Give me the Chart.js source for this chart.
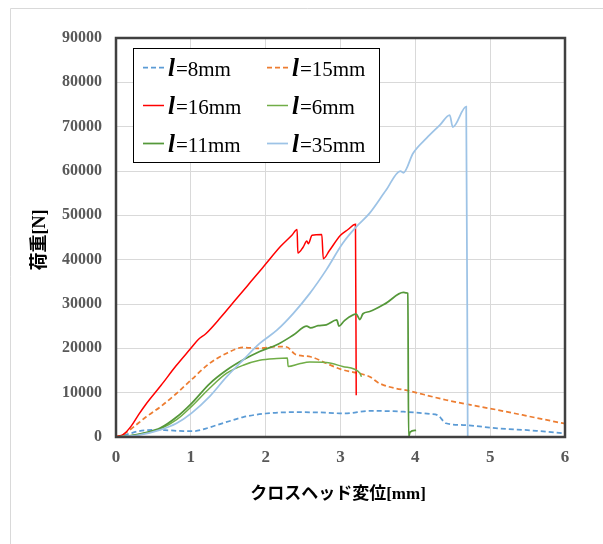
<!DOCTYPE html>
<html>
<head>
<meta charset="utf-8">
<script src="https://cdn.jsdelivr.net/npm/chart.js@4/dist/chart.umd.min.js"></script>
<style>
  html, body { margin: 0; padding: 0; background: #ffffff; }
  #wrap { width: 603px; height: 544px; }
</style>
</head>
<body>
<div id="wrap"><canvas id="c" width="603" height="544"></canvas></div>
<script>
// Crosshead displacement [mm] and load [N] for each specimen
const disp8  = [0, 0.15, 0.3, 0.5, 0.7, 0.9, 1.05, 1.2, 1.35, 1.5, 1.7, 2.0, 2.4, 2.8, 3.05, 3.4, 3.84, 4.2, 4.3, 4.41, 4.64, 5.1, 5.62, 6.0];
const load8  = [0, 600, 1300, 1600, 1500, 1350, 1350, 1900, 2700, 3500, 4500, 5300, 5600, 5500, 5300, 5900, 5700, 5200, 4900, 3100, 2700, 1960, 1400, 800];

const disp15 = [0, 0.1, 0.2, 0.4, 0.6, 0.8, 1.0, 1.25, 1.48, 1.7, 1.9, 2.15, 2.28, 2.4, 2.6, 2.8, 3.0, 3.2, 3.39, 3.52, 3.97, 4.41, 4.86, 5.1, 5.62, 6.0];
const load15 = [0, 600, 1800, 4500, 6900, 9700, 12800, 16600, 18900, 20200, 20000, 20400, 20300, 18600, 18100, 16700, 15300, 14500, 13600, 12100, 10200, 8350, 6850, 6100, 4300, 3000];

const disp16 = [0, 0.1, 0.2, 0.3, 0.4, 0.6, 0.8, 1.0, 1.1, 1.2, 1.4, 1.6, 1.8, 2.0, 2.2, 2.35, 2.42, 2.43, 2.5, 2.55, 2.57, 2.62, 2.75, 2.77, 2.85, 3.0, 3.1, 3.2, 3.21];
const load16 = [0, 600, 2400, 5000, 7400, 11600, 16000, 20000, 22000, 23300, 27000, 31000, 35000, 39000, 43000, 45500, 46800, 41500, 42800, 44200, 43600, 45500, 45700, 40200, 42000, 45500, 46800, 48000, 9400];

const disp6  = [0, 0.2, 0.4, 0.59, 0.81, 1.01, 1.25, 1.48, 1.7, 1.92, 2.15, 2.29, 2.3, 2.45, 2.59, 2.81, 3.03, 3.26, 3.28];
const load6  = [0, 300, 900, 1800, 3900, 6900, 11000, 14400, 16200, 17300, 17700, 17800, 15900, 16500, 16900, 16800, 15900, 14400, 13600];

const disp11 = [0, 0.2, 0.4, 0.59, 0.81, 1.01, 1.25, 1.48, 1.7, 1.92, 2.15, 2.37, 2.55, 2.6, 2.7, 2.81, 2.95, 2.98, 3.05, 3.21, 3.26, 3.3, 3.39, 3.61, 3.84, 3.88, 3.9, 3.91, 3.93, 4.01];
const load11 = [0, 300, 1000, 2000, 4500, 7600, 12000, 15100, 17400, 19300, 20800, 23000, 25000, 24600, 25100, 25300, 26400, 25000, 26200, 27700, 26500, 27800, 28300, 30200, 32600, 32500, 32400, 0, 1100, 1500];

const disp35 = [0, 0.3, 0.59, 0.81, 1.01, 1.25, 1.48, 1.7, 1.92, 2.15, 2.37, 2.59, 2.81, 3.03, 3.21, 3.39, 3.61, 3.8, 3.84, 3.97, 4.15, 4.33, 4.46, 4.5, 4.68, 4.7];
const load35 = [0, 400, 1600, 3100, 5400, 9100, 13600, 17400, 21100, 24100, 27900, 32400, 37700, 43700, 47400, 50500, 55700, 60000, 59600, 64000, 67400, 70400, 72600, 69900, 74500, 0];

// Series names (shown as "l=..." in the legend)
const seriesNames = ['8mm', '15mm', '16mm', '6mm', '11mm', '35mm'];

// Axis ticks
const xTickMin = 0, xTickMax = 6, xTickStep = 1;
const yTickMin = 0, yTickMax = 90000, yTickStep = 10000;

const xTitle = 'クロスヘッド変位[mm]';
const yTitle = '荷重[N]';

function pts(xs, ys) { return xs.map((x, i) => ({ x: x, y: ys[i] })); }

const styles = [
  { color: '#5B9BD5', dash: [5, 3], width: 1.75 },
  { color: '#ED7D31', dash: [5, 3], width: 1.75 },
  { color: '#FF0000', dash: [],     width: 1.5 },
  { color: '#70AD47', dash: [],     width: 1.5 },
  { color: '#55983A', dash: [],     width: 1.75 },
  { color: '#9DC3E6', dash: [],     width: 1.75 }
];
const seriesData = [
  pts(disp8, load8), pts(disp15, load15), pts(disp16, load16),
  pts(disp6, load6), pts(disp11, load11), pts(disp35, load35)
];

const datasets = seriesData.map((d, i) => ({
  label: 'l=' + seriesNames[i],
  data: d,
  borderColor: styles[i].color,
  backgroundColor: styles[i].color,
  borderDash: styles[i].dash,
  borderWidth: styles[i].width,
  pointRadius: 0,
  cubicInterpolationMode: 'monotone',
  fill: false,
  order: seriesData.length - i
}));

const serif = '"Liberation Serif", "Times New Roman", serif';
const titleFont = '"Liberation Serif", "Noto Sans CJK JP", sans-serif';

// Frame, legend box, axis titles and outer border
const decorations = {
  id: 'decorations',
  beforeDraw(chart) {
    const ctx = chart.ctx;
    ctx.save();
    ctx.strokeStyle = '#d9d9d9';
    ctx.lineWidth = 1;
    ctx.beginPath();
    ctx.moveTo(10.5, 560);
    ctx.lineTo(10.5, 8.5);
    ctx.lineTo(620, 8.5);
    ctx.stroke();
    ctx.restore();
  },
  afterDraw(chart) {
    const ctx = chart.ctx;
    const a = chart.chartArea;
    ctx.save();
    // plot frame
    ctx.strokeStyle = '#404040';
    ctx.lineWidth = 2.5;
    ctx.strokeRect(a.left, a.top, a.right - a.left, a.bottom - a.top);

    // legend
    const lx = 133.5, ly = 48.5, lw = 246, lh = 114;
    ctx.fillStyle = '#ffffff';
    ctx.fillRect(lx, ly, lw, lh);
    ctx.strokeStyle = '#000000';
    ctx.lineWidth = 1;
    ctx.strokeRect(lx, ly, lw, lh);
    const colX = [143, 267];
    const rowY = [67.5, 105.5, 143.5];
    chart.data.datasets.forEach((ds, i) => {
      const cx = colX[i % 2], cy = rowY[Math.floor(i / 2)];
      ctx.strokeStyle = ds.borderColor;
      ctx.lineWidth = ds.borderWidth;
      ctx.setLineDash(ds.borderDash || []);
      ctx.beginPath();
      ctx.moveTo(cx, cy);
      ctx.lineTo(cx + 21, cy);
      ctx.stroke();
      ctx.setLineDash([]);
      const parts = ds.label.split('=');
      ctx.fillStyle = '#000000';
      ctx.textBaseline = 'alphabetic';
      ctx.textAlign = 'left';
      ctx.font = 'italic bold 25px ' + serif;
      ctx.fillText(parts[0], cx + 25, cy + 8);
      const w = ctx.measureText(parts[0]).width;
      ctx.font = '21px ' + serif;
      ctx.fillText('=' + parts[1], cx + 25 + w + 1, cy + 8);
    });

    // axis titles
    ctx.fillStyle = '#000000';
    ctx.textAlign = 'center';
    ctx.textBaseline = 'middle';
    ctx.font = 'bold 17px ' + titleFont;
    ctx.fillText(xTitle, 338, 495);
    ctx.translate(40, 240);
    ctx.rotate(-Math.PI / 2);
    ctx.font = 'bold 18px ' + titleFont;
    ctx.fillText(yTitle, 0, 0);
    ctx.restore();
  }
};

new Chart(document.getElementById('c'), {
  type: 'line',
  data: { datasets: datasets },
  plugins: [decorations],
  options: {
    responsive: false,
    animation: false,
    layout: { padding: { left: 0, right: 38, top: 38, bottom: 0 } },
    plugins: { legend: { display: false }, tooltip: { enabled: false } },
    scales: {
      x: {
        type: 'linear',
        min: xTickMin, max: xTickMax,
        ticks: {
          stepSize: xTickStep,
          color: '#595959',
          font: { family: serif, size: 17, weight: 'bold' },
          padding: 10,
          callback: (v) => String(v)
        },
        grid: { color: '#d9d9d9', lineWidth: 1, drawTicks: false },
        border: { display: false },
        afterFit(s) { s.height = 107; }
      },
      y: {
        type: 'linear',
        min: yTickMin, max: yTickMax,
        ticks: {
          stepSize: yTickStep,
          color: '#595959',
          font: { family: serif, size: 16, weight: 'bold' },
          padding: 14,
          callback: (v) => String(v)
        },
        grid: { color: '#d9d9d9', lineWidth: 1, drawTicks: false },
        border: { display: false },
        afterFit(s) { s.width = 116; }
      }
    }
  }
});
</script>
</body>
</html>
